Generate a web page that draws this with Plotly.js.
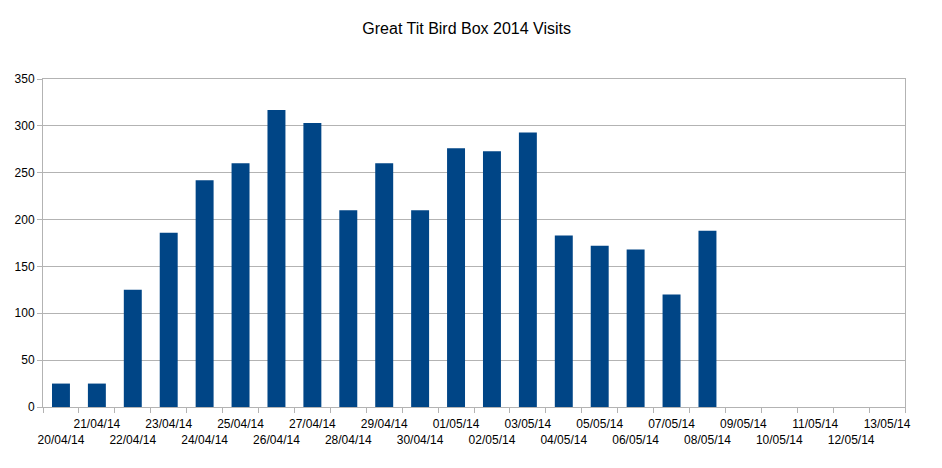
<!DOCTYPE html>
<html>
<head>
<meta charset="utf-8">
<script src="https://cdn.plot.ly/plotly-3.0.1.min.js"></script>
<style>html,body{margin:0;padding:0;background:#fff;}#chart{width:942px;height:468px;}</style>
</head>
<body>
<div id="chart"></div>
<script>
const dates = ["20/04/14","21/04/14","22/04/14","23/04/14","24/04/14","25/04/14","26/04/14","27/04/14",
  "28/04/14","29/04/14","30/04/14","01/05/14","02/05/14","03/05/14","04/05/14","05/05/14",
  "06/05/14","07/05/14","08/05/14","09/05/14","10/05/14","11/05/14","12/05/14","13/05/14"];
const visits = [25, 25, 125, 186, 242, 260, 317, 303, 210, 260, 210, 276, 273, 293, 183, 172,
  168, 120, 188, null, null, null, null, null];
const chartTitle = "Great Tit Bird Box 2014 Visits";

// staggered labels: even index on lower row, odd index on upper row
const tickText = dates.map((d, i) => i % 2 === 0 ? "<br>" + d : d + "<br> ");

const trace = {
  type: "bar",
  x: dates,
  y: visits,
  marker: {color: "#004586"},
  hoverinfo: "x+y"
};

const gridC = "#b3b3b3";
const layout = {
  width: 942, height: 468,
  margin: {l: 43, r: 37, t: 79, b: 61},
  paper_bgcolor: "#ffffff", plot_bgcolor: "#ffffff",
  font: {family: "Liberation Sans, Arial, sans-serif", size: 12, color: "#000000"},
  title: {text: chartTitle, xref: "paper", x: 0.4915, xanchor: "center", yref: "container", y: 0.94, yanchor: "middle",
          font: {size: 16, color: "#000000"}},
  bargap: 0.5,
  showlegend: false,
  xaxis: {
    type: "category",
    categoryorder: "array", categoryarray: dates,
    range: [-0.5, dates.length - 0.5],
    tickvals: dates, ticktext: tickText,
    tickangle: 0,
    tickson: "boundaries",
    ticks: "outside", ticklen: 5, tickcolor: gridC,
    ticklabelstandoff: 6,
    showgrid: false,
    showline: true, linecolor: gridC, linewidth: 1, mirror: true,
    tickfont: {size: 12, color: "#000000"},
    fixedrange: true
  },
  yaxis: {
    range: [0, 350],
    dtick: 50, tick0: 0,
    ticks: "outside", ticklen: 5, tickcolor: gridC,
    showgrid: true, gridcolor: gridC, gridwidth: 1,
    showline: true, linecolor: gridC, linewidth: 1, mirror: true,
    zeroline: false,
    tickfont: {size: 12, color: "#000000"},
    fixedrange: true
  }
};

Plotly.newPlot("chart", [trace], layout, {displayModeBar: false, staticPlot: true});
</script>
</body>
</html>
